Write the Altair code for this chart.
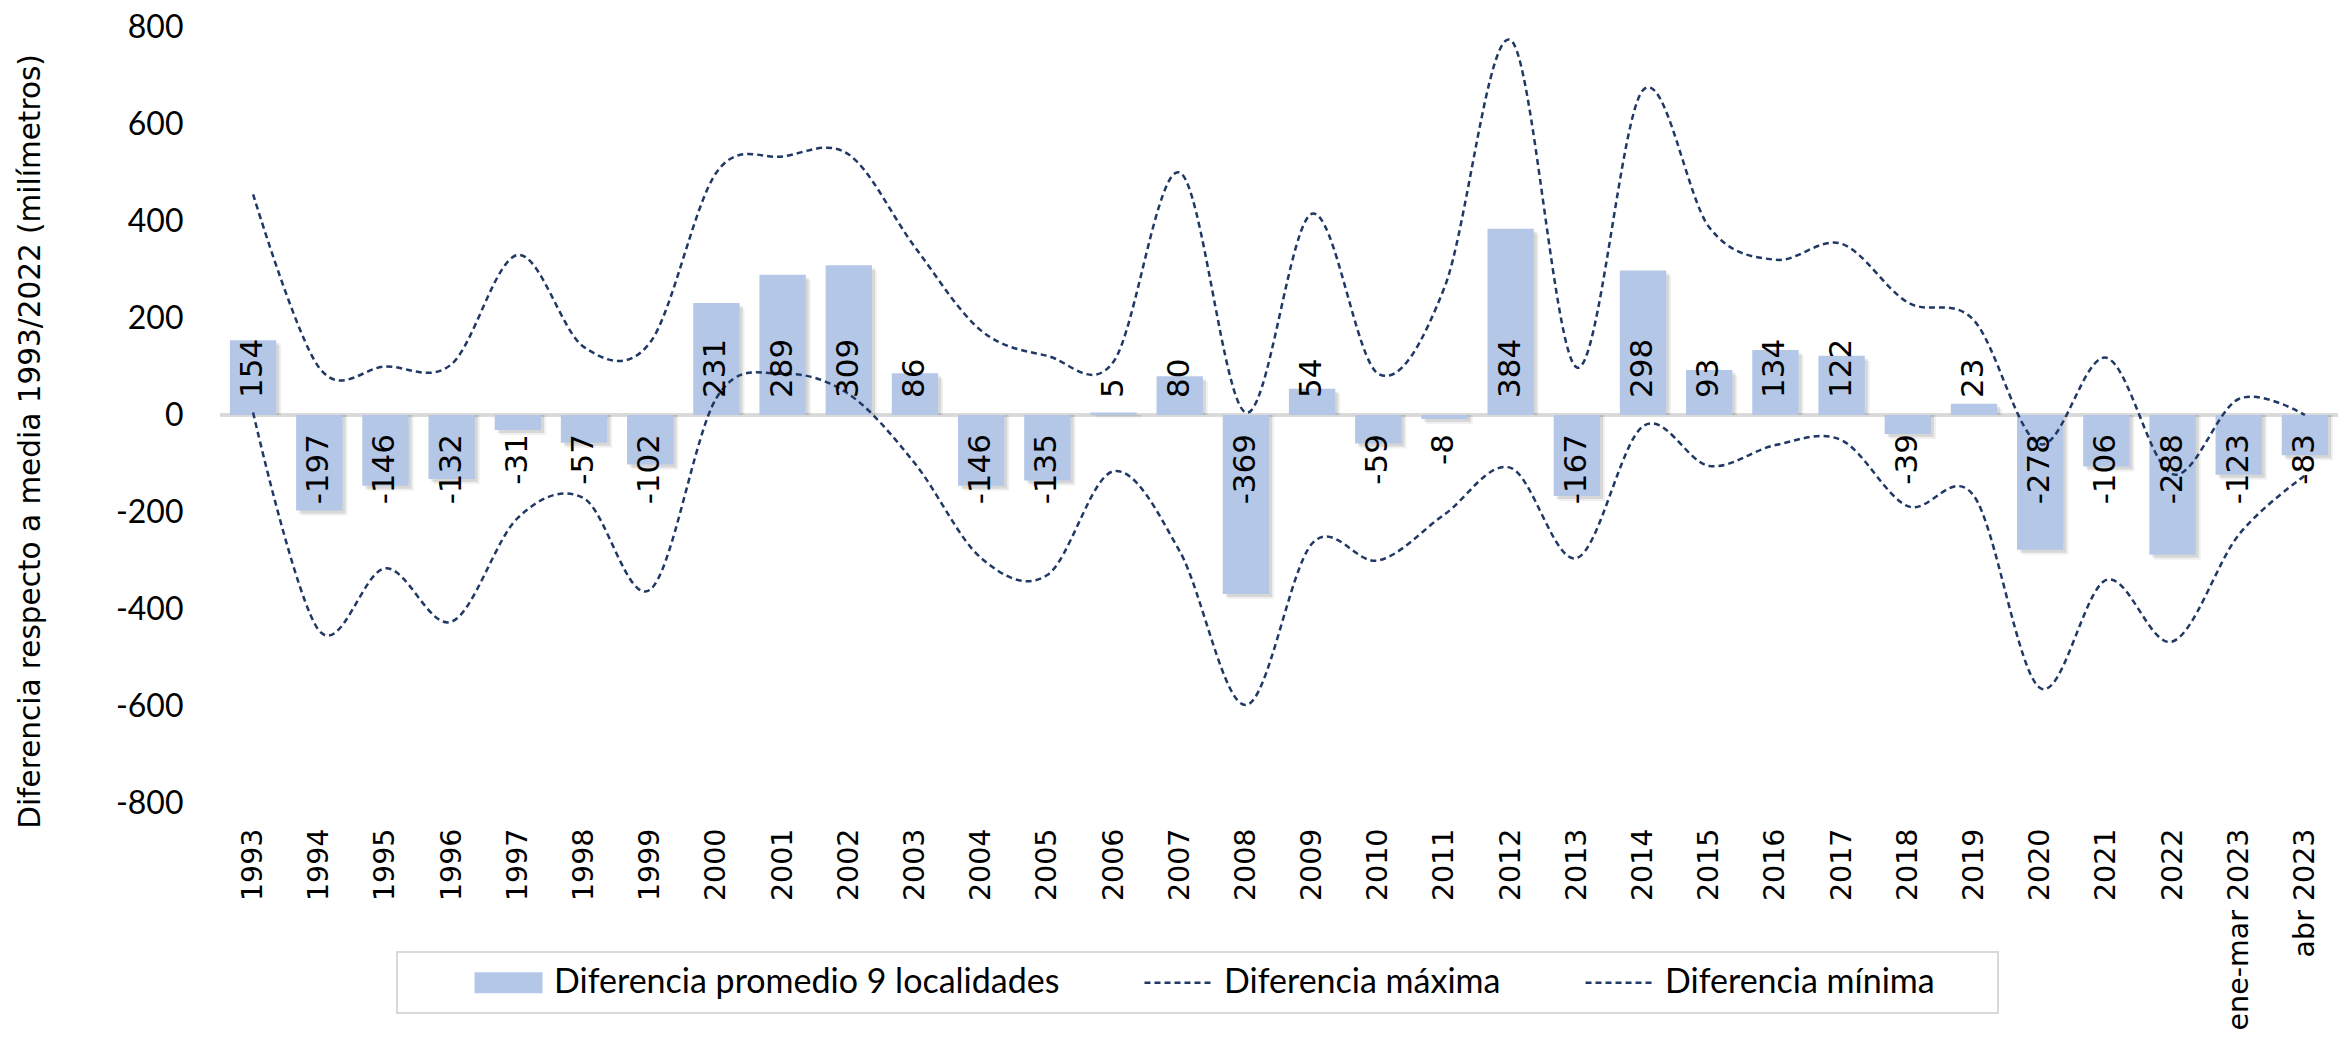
import altair as alt
import pandas as pd

categories = ["1993", "1994", "1995", "1996", "1997", "1998", "1999", "2000", "2001", "2002",
              "2003", "2004", "2005", "2006", "2007", "2008", "2009", "2010", "2011", "2012",
              "2013", "2014", "2015", "2016", "2017", "2018", "2019", "2020", "2021", "2022",
              "ene-mar 2023", "abr 2023"]
promedio = [154, -197, -146, -132, -31, -57, -102, 231, 289, 309,
            86, -146, -135, 5, 80, -369, 54, -59, -8, 384,
            -167, 298, 93, 134, 122, -39, 23, -278, -106, -288,
            -123, -83]
maxima = [455, 97, 100, 105, 330, 140, 150, 500, 533, 537,
          346, 174, 122, 110, 500, 5, 415, 85, 263, 773,
          98, 670, 387, 320, 353, 232, 195, -60, 118, -122,
          33, 0]
minima = [5, -445, -316, -426, -212, -172, -360, 35, 85, 43,
          -100, -295, -330, -116, -281, -598, -265, -300, -205, -109,
          -295, -23, -105, -62, -52, -188, -167, -563, -340, -467,
          -247, -125]

S_BAR = "Diferencia promedio 9 localidades"
S_MAX = "Diferencia máxima"
S_MIN = "Diferencia mínima"
series = [S_BAR, S_MAX, S_MIN]

BAR_COLOR = "#b4c7e7"
LINE_COLOR = "#203864"

bars_df = pd.DataFrame({
    "cat": categories,
    "serie": S_BAR,
    "valor": promedio,
    "etiqueta": [str(v) for v in promedio],
})
lines_df = pd.concat([
    pd.DataFrame({"cat": categories, "serie": S_MAX, "valor": maxima}),
    pd.DataFrame({"cat": categories, "serie": S_MIN, "valor": minima}),
], ignore_index=True)
legend_df = pd.DataFrame({"serie": series})

x_enc = alt.X(
    "cat:N", sort=categories,
    scale=alt.Scale(paddingInner=0.3, paddingOuter=0.15),
    axis=alt.Axis(title=None, labelAngle=270, labelFont="DejaVu Sans", labelFontSize=28.5,
                  labelColor="#000000", labelPadding=25, ticks=False, tickSize=0,
                  domain=False, labelOverlap=False, labelLimit=400),
)
y_enc = alt.Y(
    "valor:Q", stack=None,
    scale=alt.Scale(domain=[-800, 800], nice=False),
    axis=alt.Axis(values=list(range(-800, 801, 200)), labelExpr="'' + datum.value",
                  labelFont="Lato", labelFontSize=32, labelColor="#000000",
                  labelPadding=37, ticks=False, tickSize=0, domain=False, grid=False,
                  title="Diferencia respecto a media 1993/2022 (milímetros)",
                  titleFont="DejaVu Sans", titleFontSize=29.5, titleFontWeight="normal",
                  titleColor="#000000", titleX=-190, titleY=414, titleBaseline="middle",
                  titleAngle=270),
)

# legend symbol paths (wider than the unit square, so the symbol slot stays short)
fill_scale = alt.Scale(domain=series, range=[BAR_COLOR, "transparent", "transparent"])
stroke_scale = alt.Scale(domain=series, range=["transparent", LINE_COLOR, LINE_COLOR])
shape_scale = alt.Scale(domain=series, range=["M-2.125,-0.656H2.125V0.656H-2.125Z",
                                              "M-2.125,0H2.125", "M-2.125,0H2.125"])

pad_right = "\u2800" * 2
leg = alt.Legend(
    title="\u00a0", titleOrient="left", titleFontSize=8, titlePadding=81,
    orient="none", legendX=177, legendY=925, direction="horizontal", columns=3,
    labelFont="Lato", labelFontSize=34, labelColor="#000000", labelLimit=900,
    labelOffset=28, columnPadding=79, symbolSize=1024, symbolStrokeWidth=2.5,
    symbolDash=[6, 4], symbolFillColor="transparent", symbolStrokeColor="transparent",
    symbolOpacity=1, strokeColor="#d9d9d9", padding=13,
    labelExpr="datum.label == '" + S_MIN + "' ? datum.label + '" + pad_right + "' : datum.label",
)

zero = alt.Chart(bars_df).mark_rule(color="#d9d9d9", strokeWidth=2.5).encode(y=alt.datum(0))

base_bars = alt.Chart(bars_df)
shadow1 = base_bars.mark_bar(color="#000000", opacity=0.10, xOffset=3, yOffset=3, y2Offset=3).encode(
    x=x_enc, y=y_enc)
shadow2 = base_bars.mark_bar(color="#000000", opacity=0.06, xOffset=5, yOffset=5, y2Offset=5).encode(
    x=x_enc, y=y_enc)
bars = base_bars.mark_bar().encode(
    x=x_enc, y=y_enc,
    fill=alt.Fill("serie:N", scale=fill_scale, legend=leg),
)

lines = alt.Chart(lines_df).mark_line(
    interpolate="cardinal", strokeDash=[6, 4], strokeWidth=2.5
).encode(
    x=x_enc, y=y_enc,
    stroke=alt.Stroke("serie:N", scale=stroke_scale, legend=leg),
)

lab_pos = base_bars.transform_filter("datum.valor >= 0").mark_text(
    angle=270, align="left", baseline="middle", dx=17,
    font="DejaVu Sans", fontSize=31, color="#000000",
).encode(x=x_enc, y=alt.datum(0), text="etiqueta:N")

lab_neg = base_bars.transform_filter("datum.valor < 0").mark_text(
    angle=270, align="right", baseline="middle", dx=-19,
    font="DejaVu Sans", fontSize=31, color="#000000",
).encode(x=x_enc, y=alt.datum(0), text="etiqueta:N")

legend_layer = alt.Chart(legend_df).mark_point(opacity=1, filled=True, size=0).encode(
    x=alt.value(0), y=alt.value(0),
    fill=alt.Fill("serie:N", scale=fill_scale, legend=leg),
    stroke=alt.Stroke("serie:N", scale=stroke_scale, legend=leg),
    shape=alt.Shape("serie:N", scale=shape_scale, legend=leg),
)

chart = alt.layer(
    zero, shadow2, shadow1, bars, lines, lab_pos, lab_neg, legend_layer
).properties(
    width=2118, height=776,
    autosize=alt.AutoSizeParams(type="none"),
    padding={"left": 212, "top": 19, "right": 0, "bottom": 226},
    background="white",
).configure_view(strokeWidth=0).configure_legend(
    strokeWidth=2, orient="none", legendX=177, legendY=925, direction="horizontal"
)

chart.save("out.html", embed_options={"renderer": "svg", "actions": False})
